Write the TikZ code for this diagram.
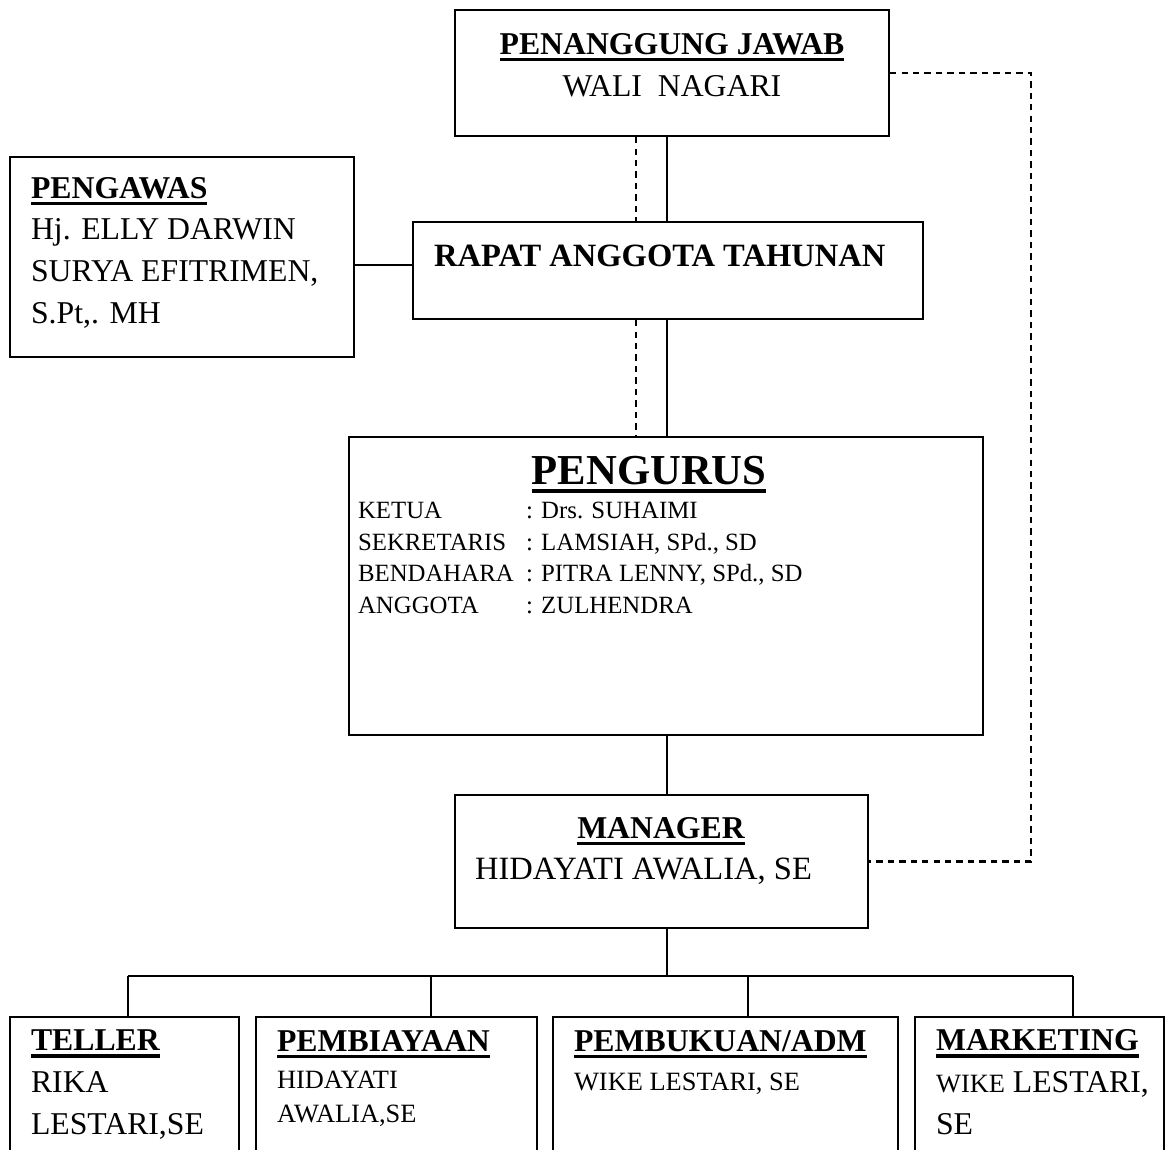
\documentclass[tikz,border=0pt]{standalone}
\usepackage{fontspec}
\setmainfont{Liberation Serif}
\usetikzlibrary{fit}
\newsavebox{\kotakjudul}
\newcommand{\garisbawah}[1]{\sbox{\kotakjudul}{#1}%
  \rlap{\rule[-0.22em]{\wd\kotakjudul}{0.11em}}\usebox{\kotakjudul}}
\newcommand{\judul}[1]{\garisbawah{\bfseries #1}}
\newcommand{\jab}[1]{\makebox[63pt][l]{#1}}
\tikzset{
  kotak/.style={draw, rectangle, inner sep=0pt},
  teks/.style={inner sep=0pt, align=left, anchor=base west,
    font=\fontsize{11.9}{15.6}\selectfont},
  kecil/.style={teks, font=\fontsize{9.9}{12.4}\selectfont},
  daftar/.style={teks, font=\fontsize{9.3}{11.8}\selectfont},
  putus/.style={dash pattern=on 2.4pt off 1.9pt}
}

\begin{document}
\begin{tikzpicture}[x=0.375pt, y=-0.375pt, line width=0.8pt]
    \useasboundingbox (0,0) rectangle (1176,1149);
    \clip (0,0) rectangle (1176,1149);

    % kotak
    \node[kotak, fit={(455,10) (889,136)}] (PJ) {};
    \node[kotak, fit={(10,157) (354,357)}] (AWAS) {};
    \node[kotak, fit={(413,222) (923,319)}] (RAT) {};
    \node[kotak, fit={(349,437) (983,735)}] (URUS) {};
    \node[kotak, fit={(455,795) (868,928)}] (MGR) {};
    \node[kotak, fit={(10,1017) (239,1180)}] (TEL) {};
    \node[kotak, fit={(256,1017) (537,1180)}] (BIAYA) {};
    \node[kotak, fit={(553,1017) (898,1180)}] (BUKU) {};
    \node[kotak, fit={(915,1017) (1164,1180)}] (MKT) {};

    % teks (titik = garis dasar baris terakhir)
    \node[teks, align=center, anchor=base] (PJteks) at (672,96)
        {\judul{PENANGGUNG JAWAB}\\WALI\ \ NAGARI};
    \node[teks] (AWASteks) at (30,323)
        {\judul{PENGAWAS}\\Hj. ELLY DARWIN\\SURYA EFITRIMEN,\\S.Pt,. MH};
    \node[teks, font=\bfseries\fontsize{12.2}{15.6}\selectfont] (RATteks) at (433,266)
        {RAPAT ANGGOTA TAHUNAN};
    \node[teks, anchor=base, font=\fontsize{16}{20}\selectfont] (URUSjudul) at (649,484)
        {\judul{PENGURUS}};
    \node[daftar] (URUSteks) at (357,613)
        {\jab{KETUA}: Drs. SUHAIMI\\
         \jab{SEKRETARIS}: LAMSIAH, SPd., SD\\
         \jab{BENDAHARA}: PITRA LENNY, SPd., SD\\
         \jab{ANGGOTA}: ZULHENDRA};
    \node[teks, anchor=base] (MGRjudul) at (661,838) {\judul{MANAGER}};
    \node[teks, font=\fontsize{12.2}{15.6}\selectfont] (MGRteks) at (474,879)
        {HIDAYATI AWALIA, SE};
    \node[teks] (TELteks) at (30,1134) {\judul{TELLER}\\RIKA\\LESTARI,SE};
    \node[teks] (BIAYAjudul) at (276,1051) {\judul{PEMBIAYAAN}};
    \node[kecil] (BIAYAteks) at (276,1122) {HIDAYATI\\AWALIA,SE};
    \node[teks] (BUKUjudul) at (573,1051) {\judul{PEMBUKUAN/ADM}};
    \node[kecil] (BUKUteks) at (573,1090) {WIKE LESTARI, SE};
    \node[teks] (MKTteks) at (935,1134)
        {\judul{MARKETING}\\{\fontsize{9.9}{12.4}\selectfont WIKE} LESTARI,\\SE};

    % titik bantu
    \coordinate (as) at (667,0);
    \coordinate (ds) at (636,0);
    \coordinate (kiri) at (0,265);
    \coordinate (kanan) at (1031,500);
    \coordinate (bus) at (667,976);
    \coordinate (b1) at (128,976);
    \coordinate (b2) at (431,976);
    \coordinate (b3) at (748,976);
    \coordinate (b4) at (1073,976);

    % garis
    \draw (PJ.south -| as) -- (RAT.north -| as);
    \draw[putus] (PJ.south -| ds) -- (RAT.north -| ds);
    \draw (RAT.south -| as) -- (URUS.north -| as);
    \draw[putus] (RAT.south -| ds) -- (URUS.north -| ds);
    \draw (AWAS.east |- kiri) -- (RAT.west |- kiri);
    \draw (URUS.south -| as) -- (MGR.north -| as);
    \draw (MGR.south -| as) -- (bus);
    \draw (b1) -- (b4);
    \draw (b1) -- (TEL.north -| b1);
    \draw (b2) -- (BIAYA.north -| b2);
    \draw (b3) -- (BUKU.north -| b3);
    \draw (b4) -- (MKT.north -| b4);
    \draw[putus] (PJ.east) -| (kanan) |- (MGR.east);
\end{tikzpicture}
\end{document}
